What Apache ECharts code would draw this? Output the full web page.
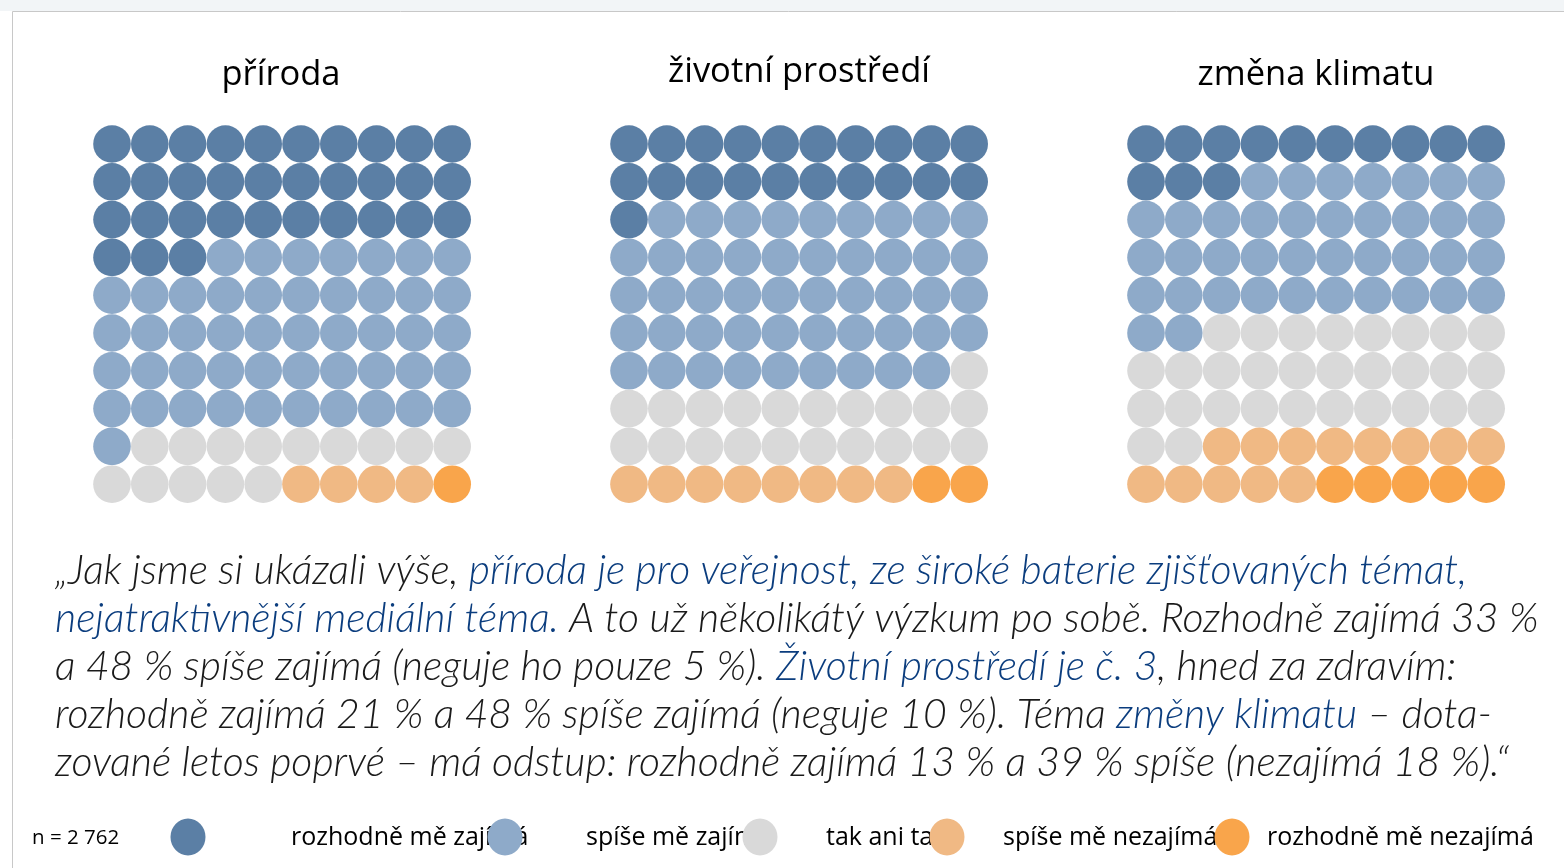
<!DOCTYPE html>
<html><head><meta charset="utf-8">
<script src="https://cdn.jsdelivr.net/npm/echarts@6/dist/echarts.min.js"></script>
<style>html,body{margin:0;padding:0;background:#fff;overflow:hidden}#c{width:1564px;height:868px}</style>
</head><body><div id="c"></div>
<script>
// ---- data ----
const panelTitles = ['příroda', 'životní prostředí', 'změna klimatu'];
const categories = ['rozhodně mě zajímá', 'spíše mě zajímá', 'tak ani tak', 'spíše mě nezajímá', 'rozhodně mě nezajímá'];
const prirodaValues = [33, 48, 14, 4, 1];
const prostrediValues = [21, 48, 21, 8, 2];
const klimaValues = [13, 39, 30, 13, 5];
const sampleNote = 'n = 2 762';
const quoteLines = [
  [['n', '„Jak jsme si ukázali výše, '], ['b', 'příroda je pro veřejnost, ze široké baterie zjišťovaných témat,']],
  [['b', 'nejatraktivnější mediální téma.'], ['n', ' A to už několikátý výzkum po sobě. Rozhodně zajímá 33 %']],
  [['n', 'a 48 % spíše zajímá (neguje ho pouze 5 %). '], ['b', 'Životní prostředí je č. 3'], ['n', ', hned za zdravím:']],
  [['n', 'rozhodně zajímá 21 % a 48 % spíše zajímá (neguje 10 %). Téma '], ['b', 'změny klimatu'], ['n', ' – dota-']],
  [['n', 'zované letos poprvé – má odstup: rozhodně zajímá 13 % a 39 % spíše (nezajímá 18 %).“']]
];

// ---- style ----
const colors = ['#5b7fa5', '#8eaac9', '#d9d9d9', '#f0b984', '#f9a54b'];
const panelValues = [prirodaValues, prostrediValues, klimaValues];
const pitch = 37.8;
const gridLefts = [93.1, 610.1, 1127.1];
const gridTop = 125.1;
const titleCenters = [281, 799, 1316];
const titleYs = [75, 72, 75];

const chart = echarts.init(document.getElementById('c'), null, {renderer: 'canvas'});

const grids = [], xAxes = [], yAxes = [], series = [];
panelValues.forEach((vals, p) => {
  grids.push({left: gridLefts[p], top: gridTop, width: pitch * 10, height: pitch * 10});
  xAxes.push({type: 'value', gridIndex: p, min: -0.5, max: 9.5, show: false});
  yAxes.push({type: 'value', gridIndex: p, min: -0.5, max: 9.5, inverse: true, show: false});
  let start = 0;
  vals.forEach((v, c) => {
    const data = [];
    for (let i = start; i < start + v; i++) data.push([i % 10, Math.floor(i / 10)]);
    start += v;
    series.push({
      type: 'scatter', name: categories[c], xAxisIndex: p, yAxisIndex: p,
      symbol: 'circle', symbolSize: 37.6, data,
      itemStyle: {color: colors[c], opacity: 1}, silent: true, animation: false
    });
  });
});

const qFamily = 'Lato';
const qSize = 41;

const graphic = [];
graphic.push({type: 'rect', shape: {x: 0, y: 0, width: 1564, height: 11}, style: {fill: '#f2f5f7'}, z: 0});
graphic.push({type: 'polyline', shape: {points: [[12.5, 868], [12.5, 11.5], [1564, 11.5]]}, style: {stroke: '#c8c8c8', lineWidth: 1, fill: null}, z: 1});
panelTitles.forEach((t, p) => {
  graphic.push({type: 'text', x: titleCenters[p], y: titleYs[p], style: {text: t, fontFamily: 'Open Sans', fontSize: 34.5, fill: '#000', align: 'center', verticalAlign: 'middle'}});
});
quoteLines.forEach((line, i) => {
  graphic.push({
    type: 'text', x: 55, y: 571 + i * 48,
    style: {
      text: line.map(s => '{' + s[0] + '|' + s[1] + '}').join(''),
      align: 'left', verticalAlign: 'middle',
      rich: {
        n: {fontFamily: qFamily, fontStyle: 'italic', fontWeight: 300, fontSize: qSize, fill: '#1a1a1a'},
        b: {fontFamily: qFamily, fontStyle: 'italic', fontWeight: 300, fontSize: qSize, fill: '#0b3d7e'}
      }
    }
  });
});
// legend
graphic.push({type: 'text', x: 32, y: 838, style: {text: sampleNote, fontFamily: 'Open Sans', fontSize: 20.5, fill: '#000', verticalAlign: 'middle'}});
const legendTextX = [291, 586, 826, 1003, 1267];
const legendDotX = [188, 505, 760, 947, 1232];
categories.forEach((c, i) => {
  graphic.push({type: 'text', x: legendTextX[i], y: 838, z: 5, style: {text: c, fontFamily: 'Open Sans', fontSize: 25, fill: '#000', verticalAlign: 'middle'}});
});
categories.forEach((c, i) => {
  graphic.push({type: 'ellipse', z: 10, shape: {cx: legendDotX[i], cy: 837, rx: 17.5, ry: 18.5}, style: {fill: colors[i]}});
});

chart.setOption({
  animation: false,
  backgroundColor: '#fff',
  grid: grids, xAxis: xAxes, yAxis: yAxes, series, graphic
});
</script>
</body></html>
